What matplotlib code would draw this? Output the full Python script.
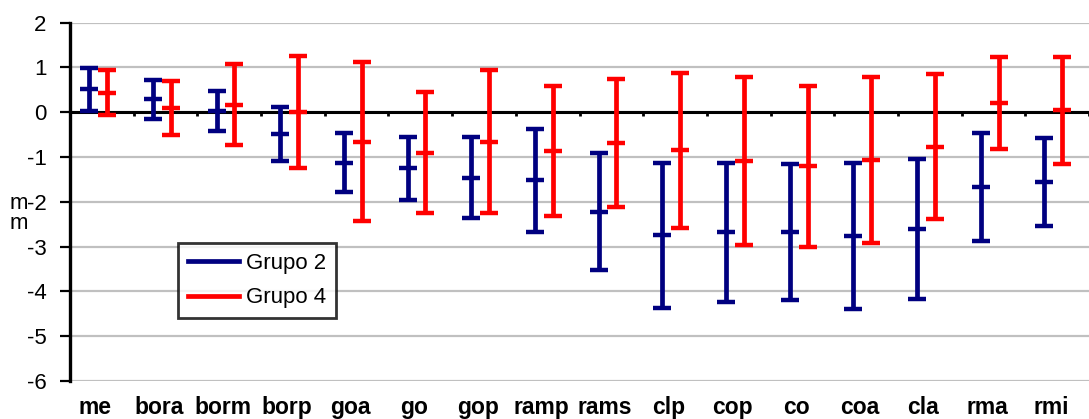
import numpy as np
import matplotlib

matplotlib.use('Agg')
import matplotlib.pyplot as plt
import matplotlib.transforms as mtransforms
from matplotlib.lines import Line2D

plt.rcParams['font.family'] = ['Liberation Sans', 'DejaVu Sans']
plt.rcParams['axes.unicode_minus'] = False

categories = ["me", "bora", "borm", "borp", "goa", "go", "gop", "ramp",
              "rams", "clp", "cop", "co", "coa", "cla", "rma", "rmi"]

# group means and half-widths of the intervals
grupo2_mean = [0.51, 0.29, 0.03, -0.48, -1.13, -1.25, -1.46, -1.52,
               -2.22, -2.75, -2.68, -2.68, -2.76, -2.61, -1.67, -1.55]
grupo2_err = [0.48, 0.44, 0.45, 0.60, 0.66, 0.70, 0.90, 1.15,
              1.31, 1.62, 1.55, 1.52, 1.63, 1.57, 1.20, 0.98]

grupo4_mean = [0.44, 0.09, 0.17, 0.00, -0.66, -0.90, -0.66, -0.86,
               -0.68, -0.85, -1.09, -1.21, -1.07, -0.77, 0.21, 0.04]
grupo4_err = [0.50, 0.60, 0.90, 1.25, 1.77, 1.36, 1.60, 1.45,
              1.43, 1.73, 1.88, 1.80, 1.85, 1.62, 1.03, 1.20]

BLUE = "#000080"
RED = "#FF0000"

fig = plt.figure(figsize=(10.89, 4.19), dpi=100)
ax = fig.add_axes([0.0643, 0.0907, 0.9357, 0.8553])

x = np.arange(len(categories))

for mean, err, color, off in [(grupo2_mean, grupo2_err, BLUE, -0.2),
                              (grupo4_mean, grupo4_err, RED, 0.08)]:
    ax.errorbar(x + off, mean, yerr=err, fmt='_', color=color, ecolor=color,
                elinewidth=3.4, capsize=6.2, capthick=3.2, markersize=12.5,
                mew=3.2, zorder=3)

ax.set_ylim(-6, 2)
ax.set_xlim(-0.5, -0.5 + (1089 - 70) / 64)
ax.set_yticks(np.arange(-6, 3, 1))
ax.yaxis.grid(True, color="#C0C0C0", linewidth=1.6)
ax.set_axisbelow(True)

for side in ("top", "right"):
    ax.spines[side].set_visible(False)
ax.spines["left"].set_linewidth(2.4)
ax.spines["bottom"].set_position(("data", 0))
ax.spines["bottom"].set_linewidth(2.2)
ax.spines["bottom"].set_zorder(2)

ax.tick_params(axis="y", direction="out", length=7, width=1.6,
               labelsize=16, pad=10)
ax.set_xticks(np.arange(0.5, len(categories), 1))
ax.tick_params(axis="x", direction="out", length=3, width=2, labelbottom=False)

# category names sit along the bottom, below the -6 line
trans = mtransforms.blended_transform_factory(ax.transData, ax.transAxes)
for i, lab in enumerate(categories):
    ax.text(i - 0.1, -0.075, lab, transform=trans, ha="center", va="center",
            fontsize=16.5, fontweight="bold")

fig.text(0.0175, 0.49, "m\nm", fontsize=16, ha="center", va="center",
         linespacing=0.95)

handles = [Line2D([], [], color=BLUE, lw=3.4),
           Line2D([], [], color=RED, lw=3.4)]
leg = ax.legend(handles, ["Grupo 2", "Grupo 4"], loc="upper left",
                bbox_to_anchor=(0.106, 0.385), fontsize=16, frameon=True,
                fancybox=False, edgecolor="black", handlelength=2.3,
                handletextpad=0.3, borderpad=0.45, labelspacing=0.6,
                borderaxespad=0)
leg.get_frame().set_linewidth(2)

fig.savefig("out.png", dpi=100)
